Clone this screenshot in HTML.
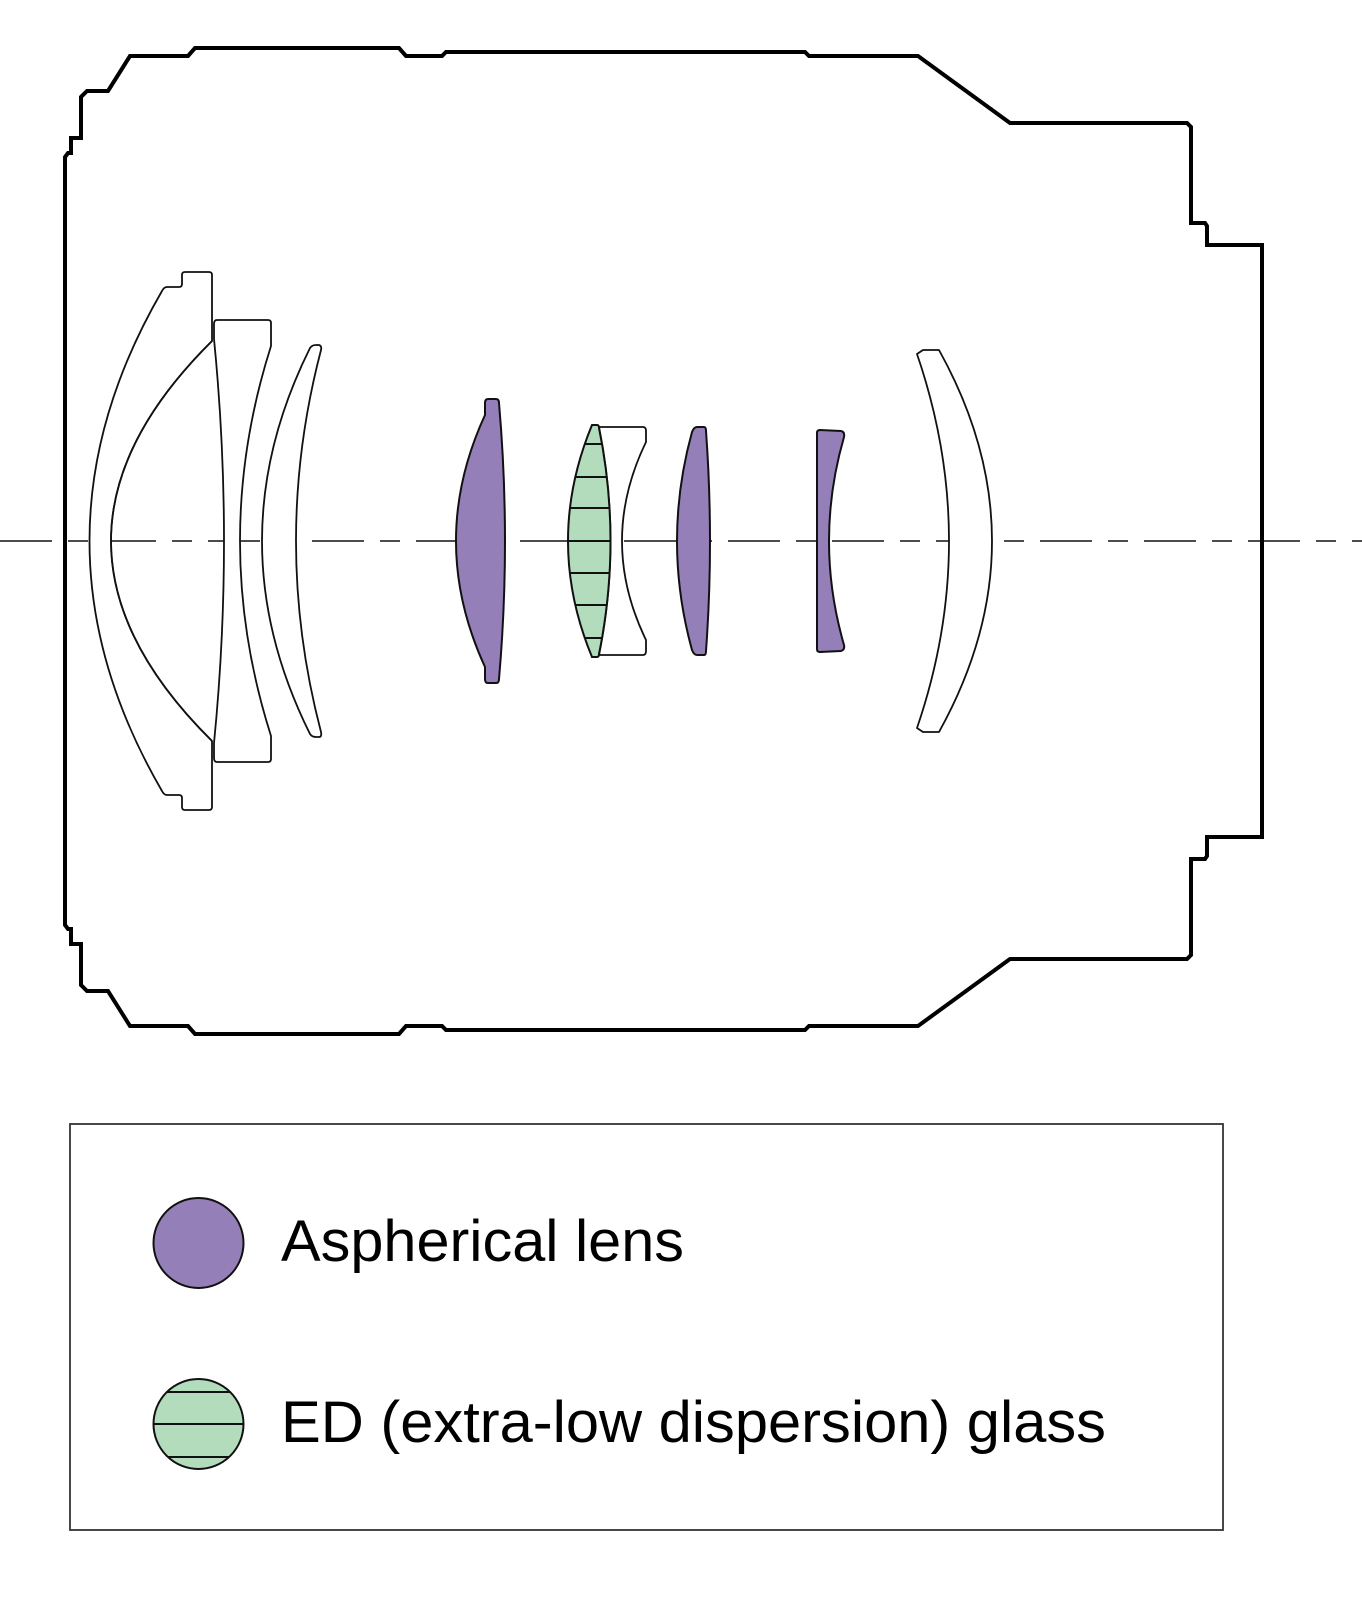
<!DOCTYPE html>
<html><head><meta charset="utf-8"><style>html,body{margin:0;padding:0;background:#fff}svg{display:block}</style></head>
<body>
<svg width="1362" height="1621" viewBox="0 0 1362 1621" xmlns="http://www.w3.org/2000/svg">
<defs>
<clipPath id="ed"><path d="M592,425 L597,425 Q599,425 599,428 Q622,541 599,654 Q599,657 597,657 L592,657 Q544,541 592,425 Z"/></clipPath>
<clipPath id="edc"><circle cx="198.5" cy="1243" r="45"/></clipPath>
</defs>
<line x1="0" y1="541" x2="1362" y2="541" stroke="#111" stroke-width="1.6" stroke-dasharray="52 16 20 16"/>
<path d="M65,541 L65,157 L68,153 L71,153 L71,138 L81,138 L81,97 L87,91 L108,91 L130,56 L188,56 L195,48 L399,48 L406,56 L442,56 L446,52 L805,52 L809,56 L918,56 L1010,123 L1187,123 L1191,127 L1191,223 L1205,223 L1207,226 L1207,245 L1262,245 L1262,541 L1262,837 L1207,837 L1207,856 L1205,859 L1191,859 L1191,955 L1187,959 L1010,959 L918,1026 L809,1026 L805,1030 L446,1030 L442,1026 L406,1026 L399,1034 L195,1034 L188,1026 L130,1026 L108,991 L87,991 L81,985 L81,944 L71,944 L71,929 L68,929 L65,925 Z" fill="none" stroke="#000" stroke-width="4" stroke-linejoin="miter"/>
<g fill="#fff" stroke="#111" stroke-width="1.8" stroke-linejoin="round">
<path d="M185,272 L209,272 Q212,272 212,275 L212,341 Q10,541 212,741 L212,807 Q212,810 209,810 L185,810 Q182,810 182,807 L182,798 Q182,795 179,795 L167,795 Q164,795 162,791 Q17,541 162,291 Q164,287 167,287 L179,287 Q182,287 182,284 L182,275 Q182,272 185,272 Z"/>
<path d="M212,341 Q10,541 212,741" fill="none"/>
<path d="M217,320 L268,320 Q271,320 271,323 L271,346 Q209,541 271,736 L271,759 Q271,762 268,762 L217,762 Q214,762 214,758 L214,743 Q234,541 214,339 L214,324 Q214,320 217,320 Z"/>
<path d="M310,348 Q312,345 316,345 L319,345 Q322,346 321,350 Q271,541 321,732 Q322,737 319,737 L316,737 Q312,737 310,734 Q214,541 310,348 Z"/>
<path d="M917,354 L923,350 L939,350 Q1045,541 939,732 L923,732 L917,728 Q981,541 917,354 Z"/>
<path d="M599,427 L643,427 Q646,427 646,431 L646,442 Q598,541 646,640 L646,651 Q646,655 643,655 L599,655 Q622,541 599,427 Z"/>
</g>
<g fill="#957fb8" stroke="#111" stroke-width="2" stroke-linejoin="round">
<path d="M488,399 L496,399 Q499,399 499,403 Q511,541 499,679 Q499,683 496,683 L488,683 Q485,683 485,679 L485,667 Q427,541 485,415 L485,403 Q485,399 488,399 Z"/>
<path d="M697,427 L704,427 Q706,427 706,431 Q714,541 706,651 Q706,655 704,655 L697,655 Q694,655 692,650 Q662,541 692,432 Q694,427 697,427 Z"/>
<path d="M820,430 L841,431 Q845,432 844,437 Q814,541 844,645 Q845,650 841,651 L820,652 Q817,652 817,649 L817,433 Q817,430 820,430 Z"/>
</g>
<g clip-path="url(#ed)" stroke="#111" stroke-width="2">
<rect x="540" y="420" width="90" height="240" fill="#b3dcbc" stroke="none"/>
<line x1="540" y1="444" x2="630" y2="444"/><line x1="540" y1="477" x2="630" y2="477"/><line x1="540" y1="508" x2="630" y2="508"/><line x1="540" y1="541" x2="630" y2="541"/><line x1="540" y1="573" x2="630" y2="573"/><line x1="540" y1="605" x2="630" y2="605"/><line x1="540" y1="638" x2="630" y2="638"/>
</g>
<path d="M592,425 L597,425 Q599,425 599,428 Q622,541 599,654 Q599,657 597,657 L592,657 Q544,541 592,425 Z" fill="none" stroke="#111" stroke-width="2"/>
<rect x="70" y="1124" width="1153" height="406" fill="none" stroke="#333" stroke-width="1.8"/>
<circle cx="198.5" cy="1243" r="45" fill="#957fb8" stroke="#111" stroke-width="2"/>
<g transform="translate(0,181)">
<g clip-path="url(#edc)"><circle cx="198.5" cy="1243" r="45" fill="#b3dcbc"/>
<g stroke="#111" stroke-width="2"><line x1="150" y1="1211" x2="250" y2="1211"/><line x1="150" y1="1243" x2="250" y2="1243"/><line x1="150" y1="1276" x2="250" y2="1276"/></g></g>
<circle cx="198.5" cy="1243" r="45" fill="none" stroke="#111" stroke-width="2"/>
</g>
<text x="281" y="1261" font-family="Liberation Sans, sans-serif" font-size="58" fill="#000" textLength="403" lengthAdjust="spacingAndGlyphs">Aspherical lens</text>
<text x="281" y="1442" font-family="Liberation Sans, sans-serif" font-size="58" fill="#000" textLength="825" lengthAdjust="spacingAndGlyphs">ED (extra-low dispersion) glass</text>
</svg>
</body></html>
